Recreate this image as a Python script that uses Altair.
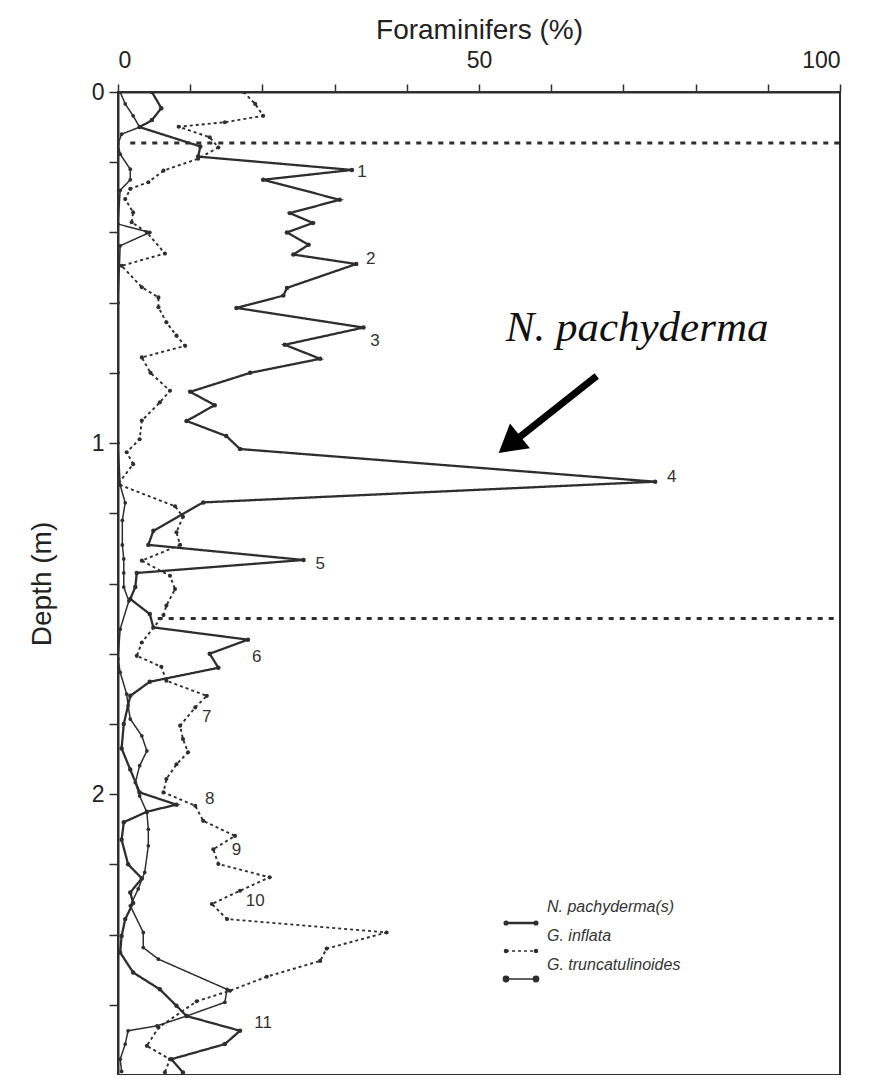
import altair as alt
import pandas as pd

# ---------------- data ----------------
species = ["N. pachyderma(s)", "G. inflata", "G. truncatulinoides"]

np_depth = [0.0, 0.046, 0.08, 0.10, 0.155, 0.184, 0.222, 0.25, 0.307, 0.345, 0.373, 0.40, 0.435,
            0.463, 0.49, 0.558, 0.58, 0.615, 0.671, 0.72, 0.76, 0.80, 0.854, 0.892, 0.937, 0.98,
            1.017, 1.11, 1.169, 1.25, 1.29, 1.333, 1.37, 1.41, 1.444, 1.487, 1.525, 1.56, 1.60,
            1.64, 1.68, 1.72, 1.80, 1.87, 1.93, 1.995, 2.03, 2.05, 2.08, 2.13, 2.20, 2.24, 2.28,
            2.31, 2.356, 2.404, 2.451, 2.508, 2.556, 2.603, 2.632, 2.674, 2.712, 2.755, 2.793]
np_pct = [4.7, 6.0, 4.7, 3.0, 11.4, 11.1, 32.4, 20.1, 30.7, 23.8, 27.0, 23.4, 26.4,
          24.3, 33.0, 23.4, 22.9, 16.4, 34.0, 23.1, 28.0, 18.3, 10.0, 13.4, 9.5, 15.0,
          16.9, 74.4, 11.8, 4.9, 4.2, 25.7, 2.6, 2.4, 1.7, 4.4, 4.9, 18.0, 12.7,
          13.9, 4.4, 1.7, 0.8, 0.5, 1.7, 3.0, 8.1, 4.0, 0.8, 0.5, 1.4, 3.3, 1.7,
          2.1, 1.0, 0.5, 0.3, 2.1, 5.8, 8.1, 9.5, 16.9, 14.8, 7.4, 9.0]

gi_depth = [0.0, 0.034, 0.068, 0.086, 0.099, 0.129, 0.158, 0.19, 0.224, 0.257, 0.276, 0.305,
            0.343, 0.371, 0.40, 0.46, 0.495, 0.556, 0.585, 0.613, 0.656, 0.694, 0.723, 0.756,
            0.80, 0.851, 0.884, 0.936, 0.989, 1.026, 1.06, 1.117, 1.18, 1.21, 1.254, 1.29,
            1.335, 1.378, 1.416, 1.463, 1.49, 1.568, 1.606, 1.637, 1.677, 1.72, 1.753, 1.805,
            1.843, 1.881, 1.915, 1.957, 1.995, 2.033, 2.076, 2.119, 2.157, 2.199, 2.237, 2.275,
            2.313, 2.356, 2.394, 2.44, 2.475, 2.52, 2.56, 2.59, 2.665, 2.717, 2.755, 2.792]
gi_pct = [17.4, 19.0, 20.1, 14.8, 8.4, 12.7, 13.9, 11.1, 6.3, 4.2, 1.7, 1.0,
          2.1, 1.9, 4.0, 6.5, 0.5, 3.3, 5.6, 5.6, 6.7, 8.1, 9.3, 3.3,
          4.5, 7.2, 5.8, 3.3, 3.0, 1.2, 2.1, 0.0, 7.9, 9.0, 8.1, 8.6,
          3.3, 7.2, 7.9, 6.7, 6.3, 3.3, 2.6, 6.0, 6.7, 12.3, 10.7, 8.6,
          9.0, 9.7, 8.1, 6.7, 6.3, 10.7, 11.8, 16.2, 13.2, 13.9, 21.0, 16.9,
          13.0, 15.1, 37.2, 28.9, 28.0, 20.6, 15.5, 10.9, 5.6, 4.0, 7.2, 6.5]

gt_depth = [0.0, 0.034, 0.068, 0.10, 0.12, 0.148, 0.177, 0.22, 0.25, 0.28, 0.376, 0.40,
            0.438, 0.60, 0.80, 1.0, 1.12, 1.17, 1.22, 1.29, 1.33, 1.37, 1.41, 1.45, 1.53,
            1.615, 1.653, 1.715, 1.748, 1.786, 1.834, 1.877, 1.919, 1.967, 2.005, 2.052, 2.10,
            2.147, 2.223, 2.27, 2.318, 2.394, 2.437, 2.47, 2.556, 2.593, 2.632, 2.66, 2.674,
            2.712, 2.755, 2.79]
gt_pct = [0.3, 1.0, 2.1, 3.0, 0.5, 0.0, 0.3, 1.7, 1.7, 0.3, 0.0, 4.4,
          0.3, 0.0, 0.0, 0.0, 0.3, 1.0, 0.6, 0.6, 0.8, 0.8, 0.8, 1.5, 0.3,
          0.0, 0.3, 1.2, 1.4, 1.7, 3.3, 4.0, 3.0, 2.4, 3.0, 4.0, 4.2,
          4.2, 3.7, 2.8, 1.7, 3.5, 3.5, 5.6, 15.1, 14.8, 9.5, 5.4, 1.4,
          1.0, 0.3, 0.5]

# peak labels (text anchor)
peak_labels = ["1", "2", "3", "4", "5", "6", "7", "8", "9", "10", "11"]
peak_label_pct = [33.8, 35.0, 35.6, 76.7, 28.0, 19.2, 12.3, 12.7, 16.4, 19.0, 20.1]
peak_label_depth = [0.228, 0.475, 0.709, 1.097, 1.345, 1.61, 1.78, 2.014, 2.16, 2.305, 2.652]

# dotted horizontal boundaries
boundary_depth = [0.145, 1.5]
boundary_start = [1.7, 5.5]

# ---------------- build tables ----------------
rows = []
for name, pcts, depths in zip(species, [np_pct, gi_pct, gt_pct], [np_depth, gi_depth, gt_depth]):
    for i, (p, d) in enumerate(zip(pcts, depths)):
        rows.append({"species": name, "pct": p, "depth": d, "idx": i})
df = pd.DataFrame(rows)

labels_df = pd.DataFrame({"label": peak_labels, "pct": peak_label_pct, "depth": peak_label_depth})
bound_df = pd.DataFrame({"x0": boundary_start, "x1": [100, 100], "depth": boundary_depth})
note_df = pd.DataFrame({"label": ["N. pachyderma"], "pct": [71.9], "depth": [0.672]})
arrow_df = pd.DataFrame({"pct": [66.3], "depth": [0.809], "pct2": [55.2], "depth2": [0.99]})
head_df = pd.DataFrame({"pct": [54.2], "depth": [1.004]})
one = pd.DataFrame({"k": [0]})

INK = "#2e2e2e"
FONT = "Liberation Sans"

x_scale = alt.Scale(domain=[0, 100], nice=False, zero=False)
y_scale = alt.Scale(domain=[0, 2.8], reverse=True, nice=False, zero=False)

x_axis = alt.Axis(orient="top", values=list(range(0, 101, 10)),
                  labelExpr="datum.value % 50 == 0 ? datum.label : ''",
                  title="Foraminifers (%)", tickSize=8, labelPadding=12, titlePadding=5,
                  labelFontSize=23, titleFontSize=28)
y_axis = alt.Axis(orient="left", values=[round(0.2 * i, 1) for i in range(0, 14)],
                  labelExpr="abs(datum.value - round(datum.value)) < 0.001 ? format(datum.value, 'd') : ''",
                  title="Depth (m)", tickSize=9, labelPadding=5, titlePadding=35,
                  labelFontSize=23, titleFontSize=28)

X = alt.X("pct:Q", scale=x_scale, axis=x_axis)
Y = alt.Y("depth:Q", scale=y_scale, axis=y_axis)

dash_range = [[1, 0], [3, 3], [1, 0]]
width_range = [2.3, 1.5, 1.6]
dot_range = [20, 14, 40]

lines = alt.Chart(df).mark_line(clip=True, color=INK).encode(
    x=X, y=Y, order="idx:Q",
    strokeDash=alt.StrokeDash("species:N", scale=alt.Scale(domain=species, range=dash_range), legend=None),
    strokeWidth=alt.StrokeWidth("species:N", scale=alt.Scale(domain=species, range=width_range), legend=None),
)

points = alt.Chart(df).mark_circle(clip=True, opacity=1, color=INK).encode(
    x=X, y=Y,
    size=alt.Size("species:N", scale=alt.Scale(domain=species, range=dot_range), legend=None),
)

bounds = alt.Chart(bound_df).mark_rule(color=INK, strokeWidth=3, strokeDash=[5, 6]).encode(
    x=alt.X("x0:Q", scale=x_scale, axis=x_axis), x2="x1:Q",
    y=alt.Y("depth:Q", scale=y_scale, axis=y_axis),
)

peak_text = alt.Chart(labels_df).mark_text(font=FONT, fontSize=17, color="#333",
                                           align="center", baseline="middle").encode(
    x=X, y=Y, text="label:N")

note = alt.Chart(note_df).mark_text(font="Liberation Serif", fontStyle="italic", fontSize=43,
                                    color="#111", align="center", baseline="middle").encode(
    x=X, y=Y, text="label:N")

arrow = alt.Chart(arrow_df).mark_rule(color="#000", strokeWidth=7).encode(
    x=X, y=Y, x2="pct2:Q", y2="depth2:Q")

head = alt.Chart(head_df).mark_point(shape="triangle-up", filled=True, size=1000, angle=231,
                                     color="#000", opacity=1).encode(x=X, y=Y)

# manual legend (label above its line sample, as in the figure)
legend_layers = []
for i, name in enumerate(species):
    ty = 815 + 29 * i
    ly = 831 + 28 * i
    legend_layers.append(
        alt.Chart(one).mark_text(font=FONT, fontStyle="italic", fontSize=16, color="#333",
                                 align="left", baseline="middle", text=name).encode(
            x=alt.value(429), y=alt.value(ty)))
    legend_layers.append(
        alt.Chart(one).mark_rule(color=INK, strokeWidth=width_range[i], strokeDash=dash_range[i]).encode(
            x=alt.value(388), x2=alt.value(418), y=alt.value(ly)))
    for ex in (388, 418):
        legend_layers.append(
            alt.Chart(one).mark_circle(color=INK, opacity=1, size=dot_range[i] + 6).encode(
                x=alt.value(ex), y=alt.value(ly)))

chart = alt.layer(bounds, lines, points, peak_text, note, arrow, head, *legend_layers).properties(
    width=722, height=983,
    padding={"left": 110, "top": 84, "right": 23, "bottom": 0},
    autosize=alt.AutoSizeParams(type="none"),
    background="white",
).configure_view(
    stroke=INK, strokeWidth=2
).configure_axis(
    domainColor=INK, domainWidth=2, tickColor=INK, tickWidth=1.5,
    labelColor="#222", titleColor="#222", labelFont=FONT, titleFont=FONT,
    titleFontWeight="normal", grid=False,
)

chart.save("out.html", embed_options={"renderer": "svg", "actions": False})
